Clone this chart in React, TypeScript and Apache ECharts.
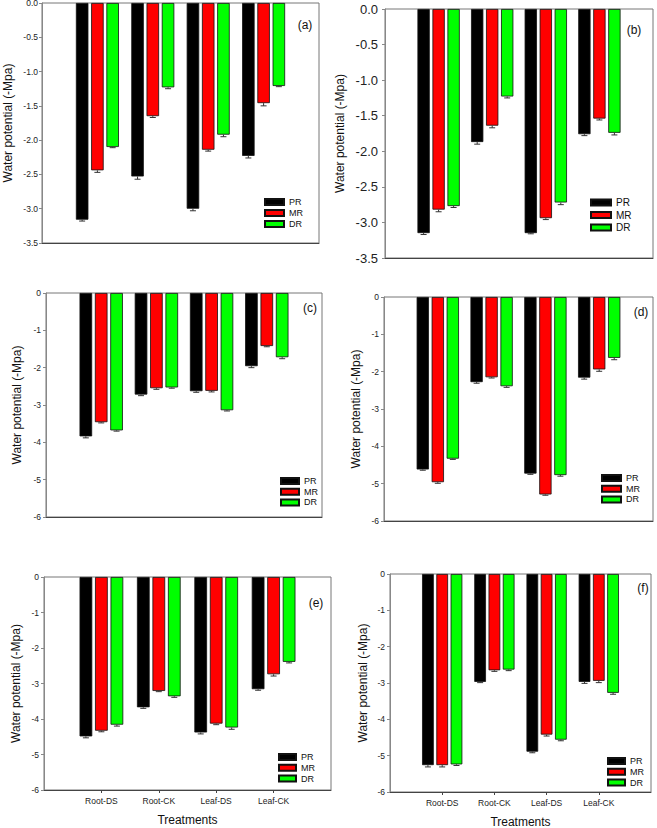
import React, { useEffect, useRef } from "react";
import * as echarts from "echarts";

const categories = ["Root-DS", "Root-CK", "Leaf-DS", "Leaf-CK"];
const seriesNames = ["PR", "MR", "DR"];
const seriesColors = ["#000000", "#ff0000", "#00ff00"];
const yTitle = "Water potential (-Mpa)";
const xTitle = "Treatments";
const panelTags = ["(a)", "(b)", "(c)", "(d)", "(e)", "(f)"];

// Panel (a)
const aPR = [-3.16, -2.53, -3.0, -2.23];
const aMR = [-2.44, -1.65, -2.14, -1.46];
const aDR = [-2.1, -1.23, -1.92, -1.21];
const aPRErr = [0.02, 0.04, 0.03, 0.03];
const aMRErr = [0.03, 0.02, 0.02, 0.04];
const aDRErr = [0.01, 0.02, 0.03, 0.01];
// Panel (b)
const bPR = [-3.15, -1.87, -3.15, -1.76];
const bMR = [-2.82, -1.64, -2.94, -1.54];
const bDR = [-2.77, -1.23, -2.72, -1.74];
const bPRErr = [0.02, 0.03, 0.01, 0.02];
const bMRErr = [0.03, 0.03, 0.02, 0.02];
const bDRErr = [0.02, 0.02, 0.03, 0.03];
// Panel (c)
const cPR = [-3.84, -2.72, -2.63, -1.96];
const cMR = [-3.46, -2.55, -2.62, -1.42];
const cDR = [-3.68, -2.53, -3.14, -1.72];
const cPRErr = [0.04, 0.03, 0.03, 0.04];
const cMRErr = [0.02, 0.03, 0.03, 0.02];
const cDRErr = [0.02, 0.02, 0.02, 0.04];
// Panel (d)
const dPR = [-4.62, -2.28, -4.73, -2.16];
const dMR = [-4.96, -2.15, -5.29, -1.94];
const dDR = [-4.33, -2.39, -4.77, -1.63];
const dPRErr = [0.02, 0.03, 0.02, 0.04];
const dMRErr = [0.03, 0.02, 0.02, 0.05];
const dDRErr = [0.02, 0.03, 0.03, 0.05];
// Panel (e)
const ePR = [-4.49, -3.67, -4.38, -3.16];
const eMR = [-4.33, -3.21, -4.13, -2.74];
const eDR = [-4.16, -3.36, -4.24, -2.39];
const ePRErr = [0.04, 0.03, 0.04, 0.03];
const eMRErr = [0.03, 0.02, 0.03, 0.05];
const eDRErr = [0.04, 0.03, 0.05, 0.03];
// Panel (f)
const fPR = [-5.26, -2.97, -4.89, -2.97];
const fMR = [-5.26, -2.65, -4.42, -2.94];
const fDR = [-5.24, -2.63, -4.56, -3.27];
const fPRErr = [0.05, 0.02, 0.03, 0.04];
const fMRErr = [0.05, 0.03, 0.04, 0.05];
const fDRErr = [0.03, 0.03, 0.03, 0.04];

// y-axis scales per panel
const yMins = [-3.5, -3.5, -6, -6, -6, -6];
const ySteps = [0.5, 0.5, 1, 1, 1, 1];
const yDecimals = [1, 1, 0, 0, 0, 0];

const panelValues = [
  [aPR, aMR, aDR],
  [bPR, bMR, bDR],
  [cPR, cMR, cDR],
  [dPR, dMR, dDR],
  [ePR, eMR, eDR],
  [fPR, fMR, fDR],
];
const panelErrors = [
  [aPRErr, aMRErr, aDRErr],
  [bPRErr, bMRErr, bDRErr],
  [cPRErr, cMRErr, cDRErr],
  [dPRErr, dMRErr, dDRErr],
  [ePRErr, eMRErr, eDRErr],
  [fPRErr, fMRErr, fDRErr],
];

// Layout (positions and sizes)
const layouts = [
  { grid: { left: 42, top: 3, width: 277, height: 240 }, labelSize: 8.5, labelMargin: 4, nameGap: 34, tag: [305, 25], legend: { left: 264, top: 197, lh: 10, gap: 1, font: 9, iw: 19 }, bw: 12.5, showX: false },
  { grid: { left: 385, top: 9, width: 268, height: 249 }, labelSize: 13, labelMargin: 7, nameGap: 45, tag: [634, 30], legend: { left: 590, top: 197, lh: 11, gap: 1.5, font: 10, iw: 20 }, bw: 12.3, showX: false },
  { grid: { left: 46, top: 293, width: 276, height: 224 }, labelSize: 8.5, labelMargin: 5, nameGap: 29, tag: [310, 308], legend: { left: 280, top: 476, lh: 10, gap: 0.7, font: 9, iw: 18 }, bw: 12.6, showX: false },
  { grid: { left: 384, top: 297, width: 269, height: 224 }, labelSize: 8.5, labelMargin: 5, nameGap: 28, tag: [641, 312], legend: { left: 601, top: 473, lh: 10, gap: 0.7, font: 9, iw: 19 }, bw: 12.3, showX: false },
  { grid: { left: 44, top: 577, width: 287, height: 213 }, labelSize: 8.5, labelMargin: 5, nameGap: 28, tag: [316, 603], legend: { left: 278, top: 752, lh: 10, gap: 0.8, font: 9, iw: 17 }, bw: 12.7, showX: true },
  { grid: { left: 390, top: 574, width: 261, height: 218 }, labelSize: 8.5, labelMargin: 5, nameGap: 27, tag: [643, 588], legend: { left: 607, top: 756, lh: 10, gap: 0.8, font: 9, iw: 17 }, bw: 11.7, showX: true },
];

const FONT = "'Liberation Sans', Arial, Helvetica, sans-serif";
const GAP_RATIO = 0.22;

function buildOption() {
  const grid: any[] = [];
  const xAxis: any[] = [];
  const yAxis: any[] = [];
  const series: any[] = [];
  const legend: any[] = [];
  const graphic: any[] = [];

  layouts.forEach((L, i) => {
    grid.push({
      ...L.grid,
      show: true,
      borderColor: "#777",
      borderWidth: 1,
      containLabel: false,
      outerBoundsMode: "none",
    });
    xAxis.push({
      type: "value",
      gridIndex: i,
      min: 0,
      max: 5,
      interval: 1,
      position: "bottom",
      axisLine: { show: true, onZero: false, lineStyle: { color: "#444", width: 1 } },
      axisTick: L.showX
        ? { show: true, customValues: [1, 2, 3, 4], length: 3, lineStyle: { color: "#444" } }
        : { show: false },
      axisLabel: L.showX
        ? {
            show: true,
            customValues: [1, 2, 3, 4],
            formatter: (v: number) => categories[Math.round(v) - 1] ?? "",
            fontSize: 8.5,
            color: "#222",
            margin: 6,
            fontFamily: FONT,
          }
        : { show: false },
      splitLine: { show: false },
      name: L.showX ? xTitle : "",
      nameLocation: "middle",
      nameGap: 30,
      nameMoveOverlap: false,
      nameTextStyle: { fontSize: 12, color: "#111", verticalAlign: "middle", fontFamily: FONT },
    });
    const dec = yDecimals[i];
    yAxis.push({
      type: "value",
      gridIndex: i,
      min: yMins[i],
      max: 0,
      interval: ySteps[i],
      axisLine: { show: true, onZero: false, lineStyle: { color: "#888", width: 1 } },
      axisTick: { show: true, inside: false, length: 3, lineStyle: { color: "#888" } },
      axisLabel: {
        fontSize: L.labelSize,
        margin: L.labelMargin,
        color: "#222",
        fontFamily: FONT,
        formatter: (v: number) => (Math.abs(v) < 1e-9 ? (0).toFixed(dec) : v.toFixed(dec)),
      },
      splitLine: { show: false },
      name: yTitle,
      nameLocation: "middle",
      nameGap: L.nameGap,
      nameMoveOverlap: false,
      nameTextStyle: { fontSize: 12, color: "#111", verticalAlign: "middle", fontFamily: FONT },
    });

    const vals = panelValues[i];
    const errs = panelErrors[i];
    vals.forEach((arr, s) => {
      series.push({
        type: "bar",
        name: seriesNames[s],
        xAxisIndex: i,
        yAxisIndex: i,
        barWidth: L.bw,
        barGap: Math.round(GAP_RATIO * 100) + "%",
        data: arr.map((v, k) => [k + 1, v]),
        itemStyle: { color: seriesColors[s], borderColor: "#111", borderWidth: 0.8 },
        silent: true,
      });
    });

    const errData: number[][] = [];
    vals.forEach((arr, s) => {
      arr.forEach((v, k) => errData.push([k + 1, v, errs[s][k], s]));
    });
    const offset = L.bw * (1 + GAP_RATIO);
    series.push({
      type: "custom",
      xAxisIndex: i,
      yAxisIndex: i,
      silent: true,
      z: 5,
      encode: { x: 0, y: 1 },
      data: errData,
      renderItem: (_params: any, api: any) => {
        const x = api.value(0);
        const v = api.value(1);
        const e = api.value(2);
        const s = api.value(3);
        const p0 = api.coord([x, v]);
        const p1 = api.coord([x, v - e]);
        const cx = p0[0] + (s - 1) * offset;
        return {
          type: "group",
          children: [
            { type: "line", shape: { x1: cx, y1: p0[1], x2: cx, y2: p1[1] }, style: { stroke: "#333", lineWidth: 1 } },
            { type: "line", shape: { x1: cx - 3, y1: p1[1], x2: cx + 3, y2: p1[1] }, style: { stroke: "#333", lineWidth: 1 } },
          ],
        };
      },
    });

    legend.push({
      orient: "vertical",
      left: L.legend.left,
      top: L.legend.top,
      padding: 0,
      itemWidth: L.legend.iw,
      itemHeight: 6,
      itemGap: L.legend.gap,
      icon: "rect",
      selectedMode: false,
      textStyle: { fontSize: L.legend.font, lineHeight: L.legend.lh, color: "#111", fontFamily: FONT },
      data: seriesNames,
    });

    graphic.push({
      type: "text",
      x: L.tag[0],
      y: L.tag[1],
      silent: true,
      style: {
        text: panelTags[i],
        fontSize: 12,
        fontFamily: FONT,
        fill: "#111",
        align: "center",
        verticalAlign: "middle",
      },
    });
  });

  return {
    animation: false,
    backgroundColor: "#ffffff",
    textStyle: { fontFamily: FONT },
    grid,
    xAxis,
    yAxis,
    series,
    legend,
    graphic,
  };
}

export default function App() {
  const ref = useRef<HTMLDivElement>(null);
  useEffect(() => {
    if (!ref.current) return;
    const chart = echarts.init(ref.current, undefined, { renderer: "svg" });
    chart.setOption(buildOption() as any);
    return () => chart.dispose();
  }, []);
  return (
    <div
      ref={ref}
      style={{ position: "absolute", left: 0, top: 0, width: 657, height: 828, background: "#fff" }}
    />
  );
}
